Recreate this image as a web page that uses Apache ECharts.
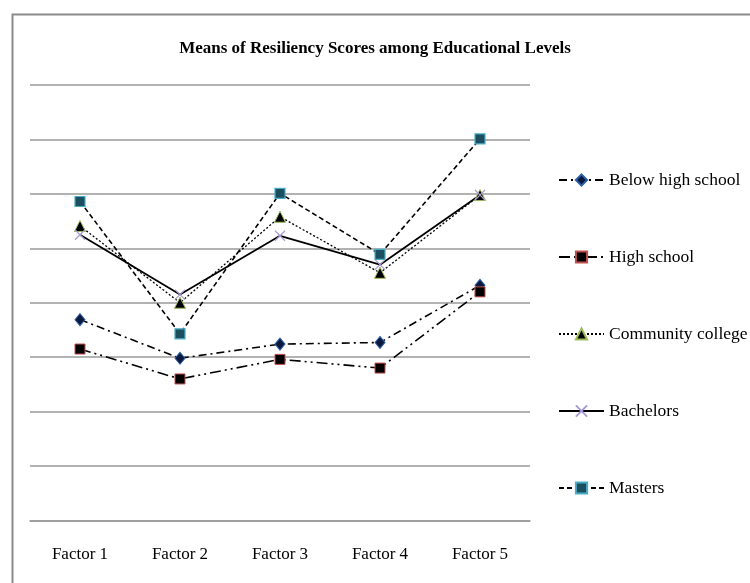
<!DOCTYPE html>
<html>
<head>
<meta charset="utf-8">
<script src="https://cdn.jsdelivr.net/npm/echarts@6/dist/echarts.min.js"></script>
<style>html,body{margin:0;padding:0;background:#fff;}#c{width:750px;height:583px;}</style>
</head>
<body>
<div id="c"></div>
<script>
var categories = ['Factor 1', 'Factor 2', 'Factor 3', 'Factor 4', 'Factor 5'];
var belowHighSchool = [3.69, 2.98, 3.24, 3.27, 4.32];
var highSchool = [3.15, 2.60, 2.96, 2.80, 4.20];
var communityCollege = [5.41, 4.00, 5.58, 4.55, 5.98];
var bachelors = [5.25, 4.15, 5.23, 4.70, 5.98];
var masters = [5.86, 3.43, 6.01, 4.89, 7.01];
var seriesNames = ['Below high school', 'High school', 'Community college', 'Bachelors', 'Masters'];

var FONT = '"Liberation Serif", "Times New Roman", serif';
var chart = echarts.init(document.getElementById('c'));
function mk(name, data, lineType, lineWidth, symbol, size, fill, border, bw) {
  return {
    name: name, type: 'line', data: data,
    symbol: symbol, symbolSize: size,
    lineStyle: { color: '#000', width: lineWidth, type: lineType },
    itemStyle: { color: fill, borderColor: border, borderWidth: bw },
    emphasis: { disabled: true },
    animation: false
  };
}
chart.setOption({
  animation: false,
  title: {
    text: 'Means of Resiliency Scores among Educational Levels',
    left: 'center', top: 35,
    textStyle: { fontFamily: FONT, fontWeight: 'bold', fontSize: 17, color: '#000' }
  },
  graphic: [{
    type: 'rect', left: 10, top: 12, z: -10,
    shape: { x: 0, y: 0, width: 780, height: 620 },
    style: { fill: 'none', stroke: '#8a8a8a', lineWidth: 2 }
  }],
  grid: { left: 30, right: 220, top: 85, bottom: 62.5 },
  legend: {
    orient: 'vertical', left: 558, top: 171, padding: 0,
    itemWidth: 45, itemHeight: 14, itemGap: 59,
    textStyle: { fontFamily: FONT, fontSize: 17.5, color: '#000' },
    data: seriesNames
  },
  xAxis: {
    type: 'category', data: categories, boundaryGap: true,
    axisLine: { show: true, lineStyle: { color: '#999', width: 1.5 } },
    axisTick: { show: false },
    axisLabel: { fontFamily: FONT, fontSize: 17, color: '#000', margin: 26 }
  },
  yAxis: {
    type: 'value', min: 0, max: 8, interval: 1,
    axisLine: { show: false }, axisTick: { show: false }, axisLabel: { show: false },
    splitLine: { lineStyle: { color: '#999', width: 1.5 } }
  },
  series: [
    mk(seriesNames[0], belowHighSchool, [8, 4, 2, 4], 1.6, 'diamond', [10, 12], '#0b1a3c', '#2e5ea8', 1),
    mk(seriesNames[1], highSchool, [11, 4, 2, 4, 2, 4], 1.6, 'rect', 10, '#000', '#c0504d', 1),
    mk(seriesNames[2], communityCollege, [2, 2], 1.3, 'triangle', 11, '#000', '#9bbb59', 1),
    mk(seriesNames[3], bachelors, 'solid', 1.8, 'path://M0,0L10,10M10,0L0,10', 10, 'rgba(0,0,0,0)', '#a89bcf', 1.2),
    mk(seriesNames[4], masters, [5, 3], 1.6, 'rect', 10, '#1b4e5e', '#4bacc6', 1.2)
  ]
});
</script>
</body>
</html>
